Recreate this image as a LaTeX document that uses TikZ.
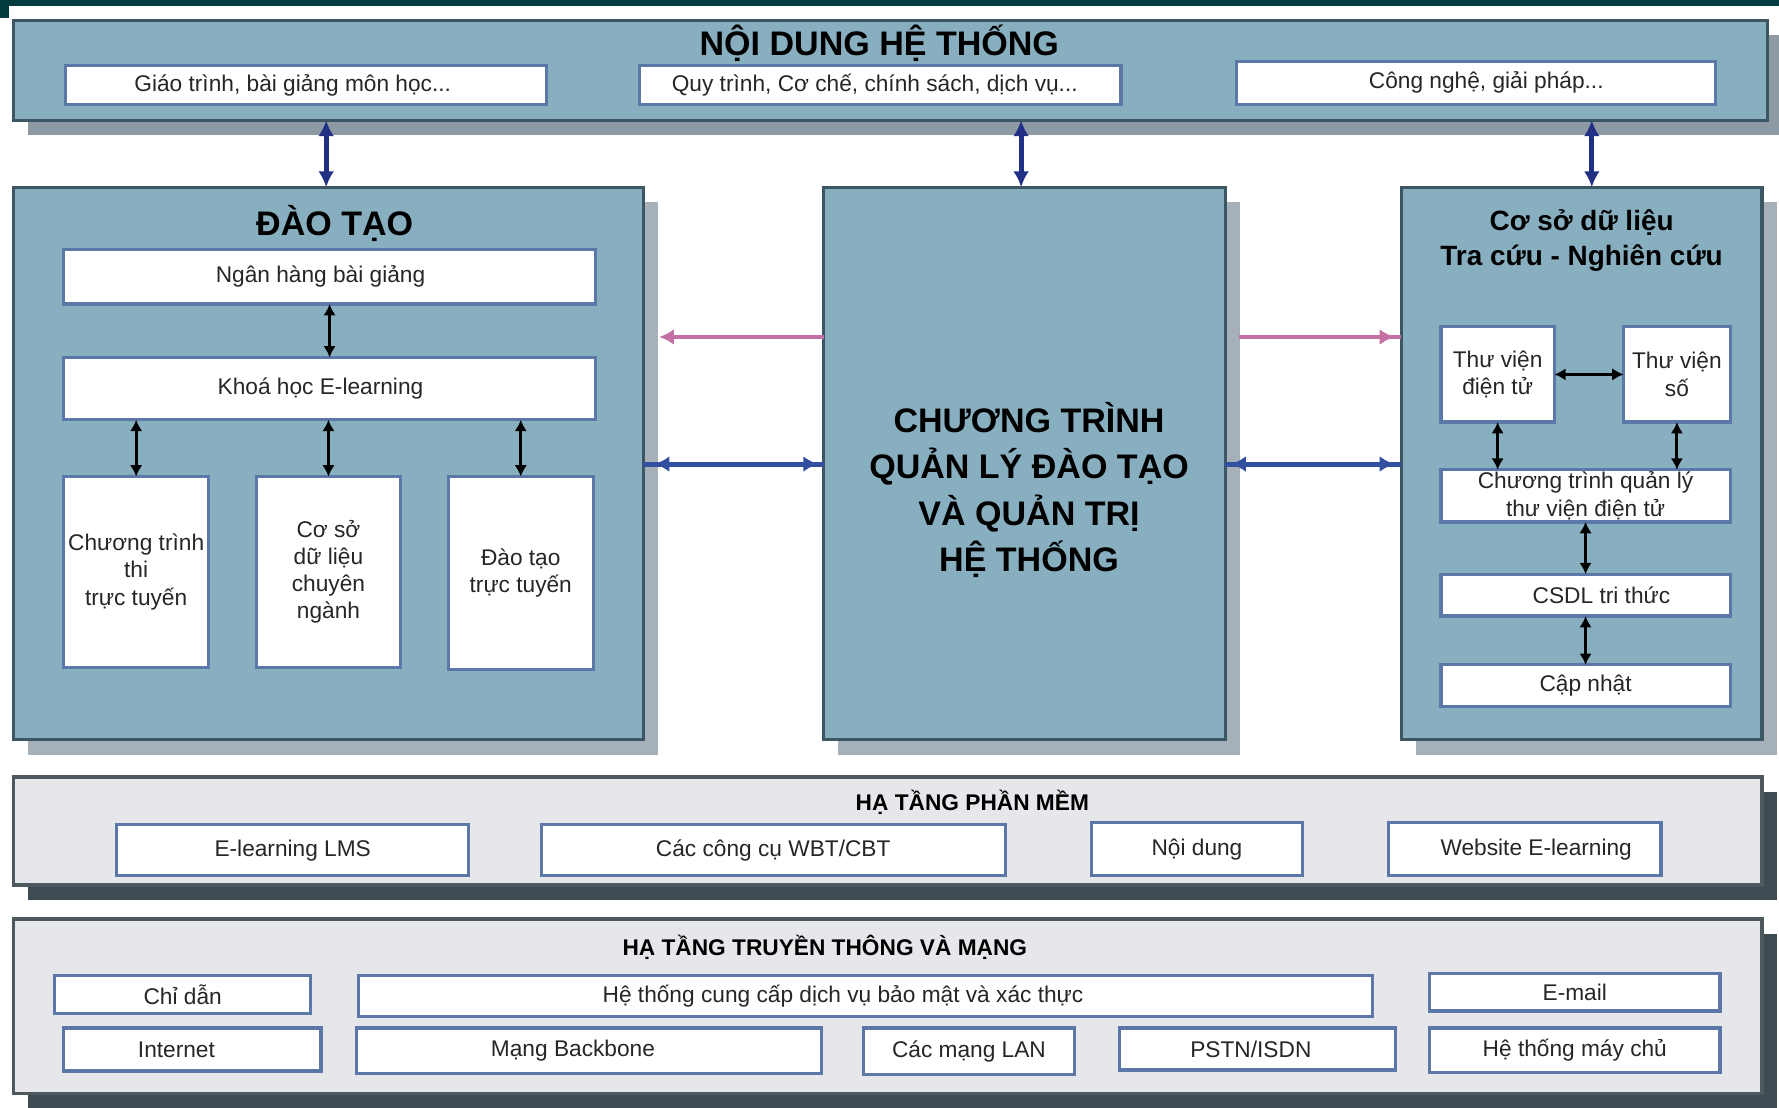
\documentclass[tikz,border=0pt]{standalone}
\usepackage{fontspec}
\setmainfont{Liberation Sans}
\usetikzlibrary{arrows.meta,calc}
\definecolor{boxfill}{HTML}{88AFBF}
\definecolor{boxedge}{HTML}{3D5663}
\definecolor{shadowlt}{HTML}{A6B0B8}
\definecolor{shadowmid}{HTML}{8E9AA3}
\definecolor{shadowdk}{HTML}{3F4B53}
\definecolor{greyfill}{HTML}{E5E7EB}
\definecolor{greyedge}{HTML}{4E585F}
\definecolor{inedge}{HTML}{5B78A8}
\definecolor{arrblue}{HTML}{1F3085}
\definecolor{pinkln}{HTML}{C470A4}
\definecolor{blueln}{HTML}{3350A0}
\definecolor{topbar}{HTML}{003B40}

\newcommand{\mywbox}[6]{\node[wbx, minimum width={(#4-#2)*0.5pt}, minimum height={(#5-#3)*0.5pt}] (#1) at ({(#2+#4)/2},{(#3+#5)/2}) {#6};}
\newcommand{\mypanel}[7]{%
  \fill[#7] (#2+13,#3+13) rectangle (#4+13,#5+13);
  \node[#6, minimum width={(#4-#2)*0.5pt}, minimum height={(#5-#3)*0.5pt}] (#1) at ({(#2+#4)/2},{(#3+#5)/2}) {};}

\tikzset{
  bigbx/.style={draw=boxedge, line width=1.5pt, fill=boxfill, inner sep=0pt, outer sep=0pt},
  greybx/.style={draw=greyedge, line width=1.5pt, fill=greyfill, inner sep=0pt, outer sep=0pt},
  wbx/.style={draw=inedge, line width=1.4pt, fill=white, inner sep=0pt, outer sep=0pt, align=center, font=\fontsize{10}{12}\selectfont, text=black!85},
  ttl/.style={inner sep=0pt, align=center, font=\bfseries\fontsize{15}{20.5}\selectfont},
  dbt/.style={inner sep=0pt, align=center, font=\bfseries\fontsize{12.3}{15}\selectfont},
  btt/.style={inner sep=0pt, font=\bfseries\fontsize{10}{12}\selectfont},
  conn/.style={draw=arrblue, line width=2.2pt, {Latex[length=7pt,width=7pt]}-{Latex[length=7pt,width=7pt]}},
  inarr/.style={draw=black, line width=1.3pt, {Latex[length=5pt,width=5.5pt]}-{Latex[length=5pt,width=5.5pt]}},
  pinkc/.style={draw=pinkln, line width=2pt},
  bluec/.style={draw=blueln, line width=2.2pt},
  tipL/.style={-{Latex[length=6.5pt,width=7pt]}},
  tipLR/.style={{Latex[length=6.5pt,width=7pt]}-{Latex[length=6.5pt,width=7pt]}}
}

\begin{document}
\begin{tikzpicture}[x=0.5pt,y=-0.5pt]
\useasboundingbox (0,0) rectangle (1568,976);
\fill[white] (0,0) rectangle (1568,976);
\fill[topbar] (0,0) rectangle (1568,5);
\fill[topbar] (0,0) rectangle (8,16);

% top panel
\mypanel{tb}{12}{18}{1558}{106}{bigbx}{shadowmid}
\node[ttl] (tbt) at (775,38) {NỘI DUNG HỆ THỐNG};
\mywbox{t1}{58}{58}{482}{92}{Giáo trình, bài giảng môn học...\hspace*{12pt}}
\mywbox{t2}{564}{58}{988}{92}{Quy trình, Cơ chế, chính sách, dịch vụ...\hspace*{5pt}}
\mywbox{t3}{1090}{54}{1512}{92}{\hspace*{9pt}Công nghệ, giải pháp...}

% left panel
\mypanel{dt}{12}{165}{567}{652}{bigbx}{shadowlt}
\node[ttl] (dtt) at (295,197) {ĐÀO TẠO};
\mywbox{nh}{56}{220}{525}{268}{Ngân hàng bài giảng\hspace*{8pt}}
\mywbox{kh}{56}{315}{525}{370}{Khoá học E-learning\hspace*{8pt}}
\mywbox{c1}{56}{420}{184}{588}{Chương trình\\thi\\trực tuyến}
\mywbox{c2}{226}{420}{353}{588}{Cơ sở\\dữ liệu\\chuyên\\ngành}
\mywbox{c3}{395}{420}{523}{590}{Đào tạo\\trực tuyến}

% centre panel
\mypanel{cb}{726}{165}{1080}{652}{bigbx}{shadowlt}
\node[ttl] (cbt) at (907,432) {CHƯƠNG TRÌNH\\QUẢN LÝ ĐÀO TẠO\\VÀ QUẢN TRỊ\\HỆ THỐNG};

% right panel
\mypanel{rb}{1235}{165}{1553}{652}{bigbx}{shadowlt}
\node[dbt] (rbt) at (1394,212) {Cơ sở dữ liệu\\Tra cứu - Nghiên cứu};
\mywbox{tv1}{1270}{288}{1370}{372}{Thư viện\\điện tử}
\mywbox{tv2}{1431}{288}{1525}{372}{Thư viện\\số}
\mywbox{ct}{1270}{414}{1525}{460}{Chương trình quản lý\\thư viện điện tử}
\mywbox{cs}{1270}{506}{1525}{543}{\hspace*{14pt}CSDL tri thức}
\mywbox{cn}{1270}{586}{1525}{623}{Cập nhật}

% software infrastructure
\mypanel{sw}{12}{685}{1553}{780}{greybx}{shadowdk}
\node[btt] (swt) at (857,707) {HẠ TẦNG PHẦN MỀM};
\mywbox{s1}{103}{727}{413}{772}{E-learning LMS}
\mywbox{s2}{477}{727}{886}{772}{Các công cụ WBT/CBT}
\mywbox{s3}{962}{725}{1148}{772}{Nội dung}
\mywbox{s4}{1224}{725}{1464}{772}{\hspace*{10pt}Website E-learning}

% network infrastructure
\mypanel{nw}{12}{810}{1553}{964}{greybx}{shadowdk}
\node[btt] (nwt) at (727,835) {HẠ TẦNG TRUYỀN THÔNG VÀ MẠNG};
\mywbox{n1}{48}{860}{274}{893}{Chỉ dẫn}
\mywbox{n2}{316}{860}{1210}{896}{Hệ thống cung cấp dịch vụ bảo mật và xác thực\hspace*{20pt}}
\mywbox{n3}{1260}{858}{1516}{891}{E-mail}
\mywbox{n4}{56}{906}{283}{944}{Internet\hspace*{14pt}}
\mywbox{n5}{314}{906}{724}{946}{Mạng Backbone\hspace*{14pt}}
\mywbox{n6}{761}{906}{947}{947}{Các mạng LAN}
\mywbox{n7}{987}{906}{1230}{943}{PSTN/ISDN\hspace*{6pt}}
\mywbox{n8}{1260}{906}{1516}{945}{Hệ thống máy chủ}

% connectors
\coordinate (pk) at (0,297);
\coordinate (bl) at (0,409);

\draw[conn] ($(tb.south -| dt.north)+(-2,0)$) -- ($(dt.north)+(-2,0)$);
\draw[conn] ($(tb.south -| cb.north)+(-3,0)$) -- ($(cb.north)+(-3,0)$);
\draw[conn] ($(tb.south -| rb.north)+(9,0)$) -- ($(rb.north)+(9,0)$);

\draw[pinkc, tipL] (cb.west |- pk) -- ($(dt.east |- pk)+(14,0)$);
\draw[pinkc] ($(cb.east |- pk)+(12,0)$) -- (rb.west |- pk);
\draw[pinkc, tipL] ($(cb.east |- pk)+(12,0)$) -- ($(rb.west |- pk)+(-6,0)$);

\draw[bluec] (dt.east |- bl) -- (cb.west |- bl);
\draw[bluec, tipLR] ($(dt.east |- bl)+(10,0)$) -- ($(cb.west |- bl)+(-5,0)$);
\draw[bluec] (cb.east |- bl) -- (rb.west |- bl);
\draw[bluec, tipLR] ($(cb.east |- bl)+(5,0)$) -- ($(rb.west |- bl)+(-6,0)$);

\draw[inarr] (nh) -- (kh);
\draw[inarr] (kh.south -| c1.north) -- (c1.north);
\draw[inarr] (kh.south -| c2.north) -- (c2.north);
\draw[inarr] (kh.south -| c3.north) -- (c3.north);

\draw[inarr] (tv1) -- (tv2);
\draw[inarr] (tv1.south) -- (tv1.south |- ct.north);
\draw[inarr] (tv2.south) -- (tv2.south |- ct.north);
\draw[inarr] (ct) -- (cs);
\draw[inarr] (cs) -- (cn);
\end{tikzpicture}
\end{document}
